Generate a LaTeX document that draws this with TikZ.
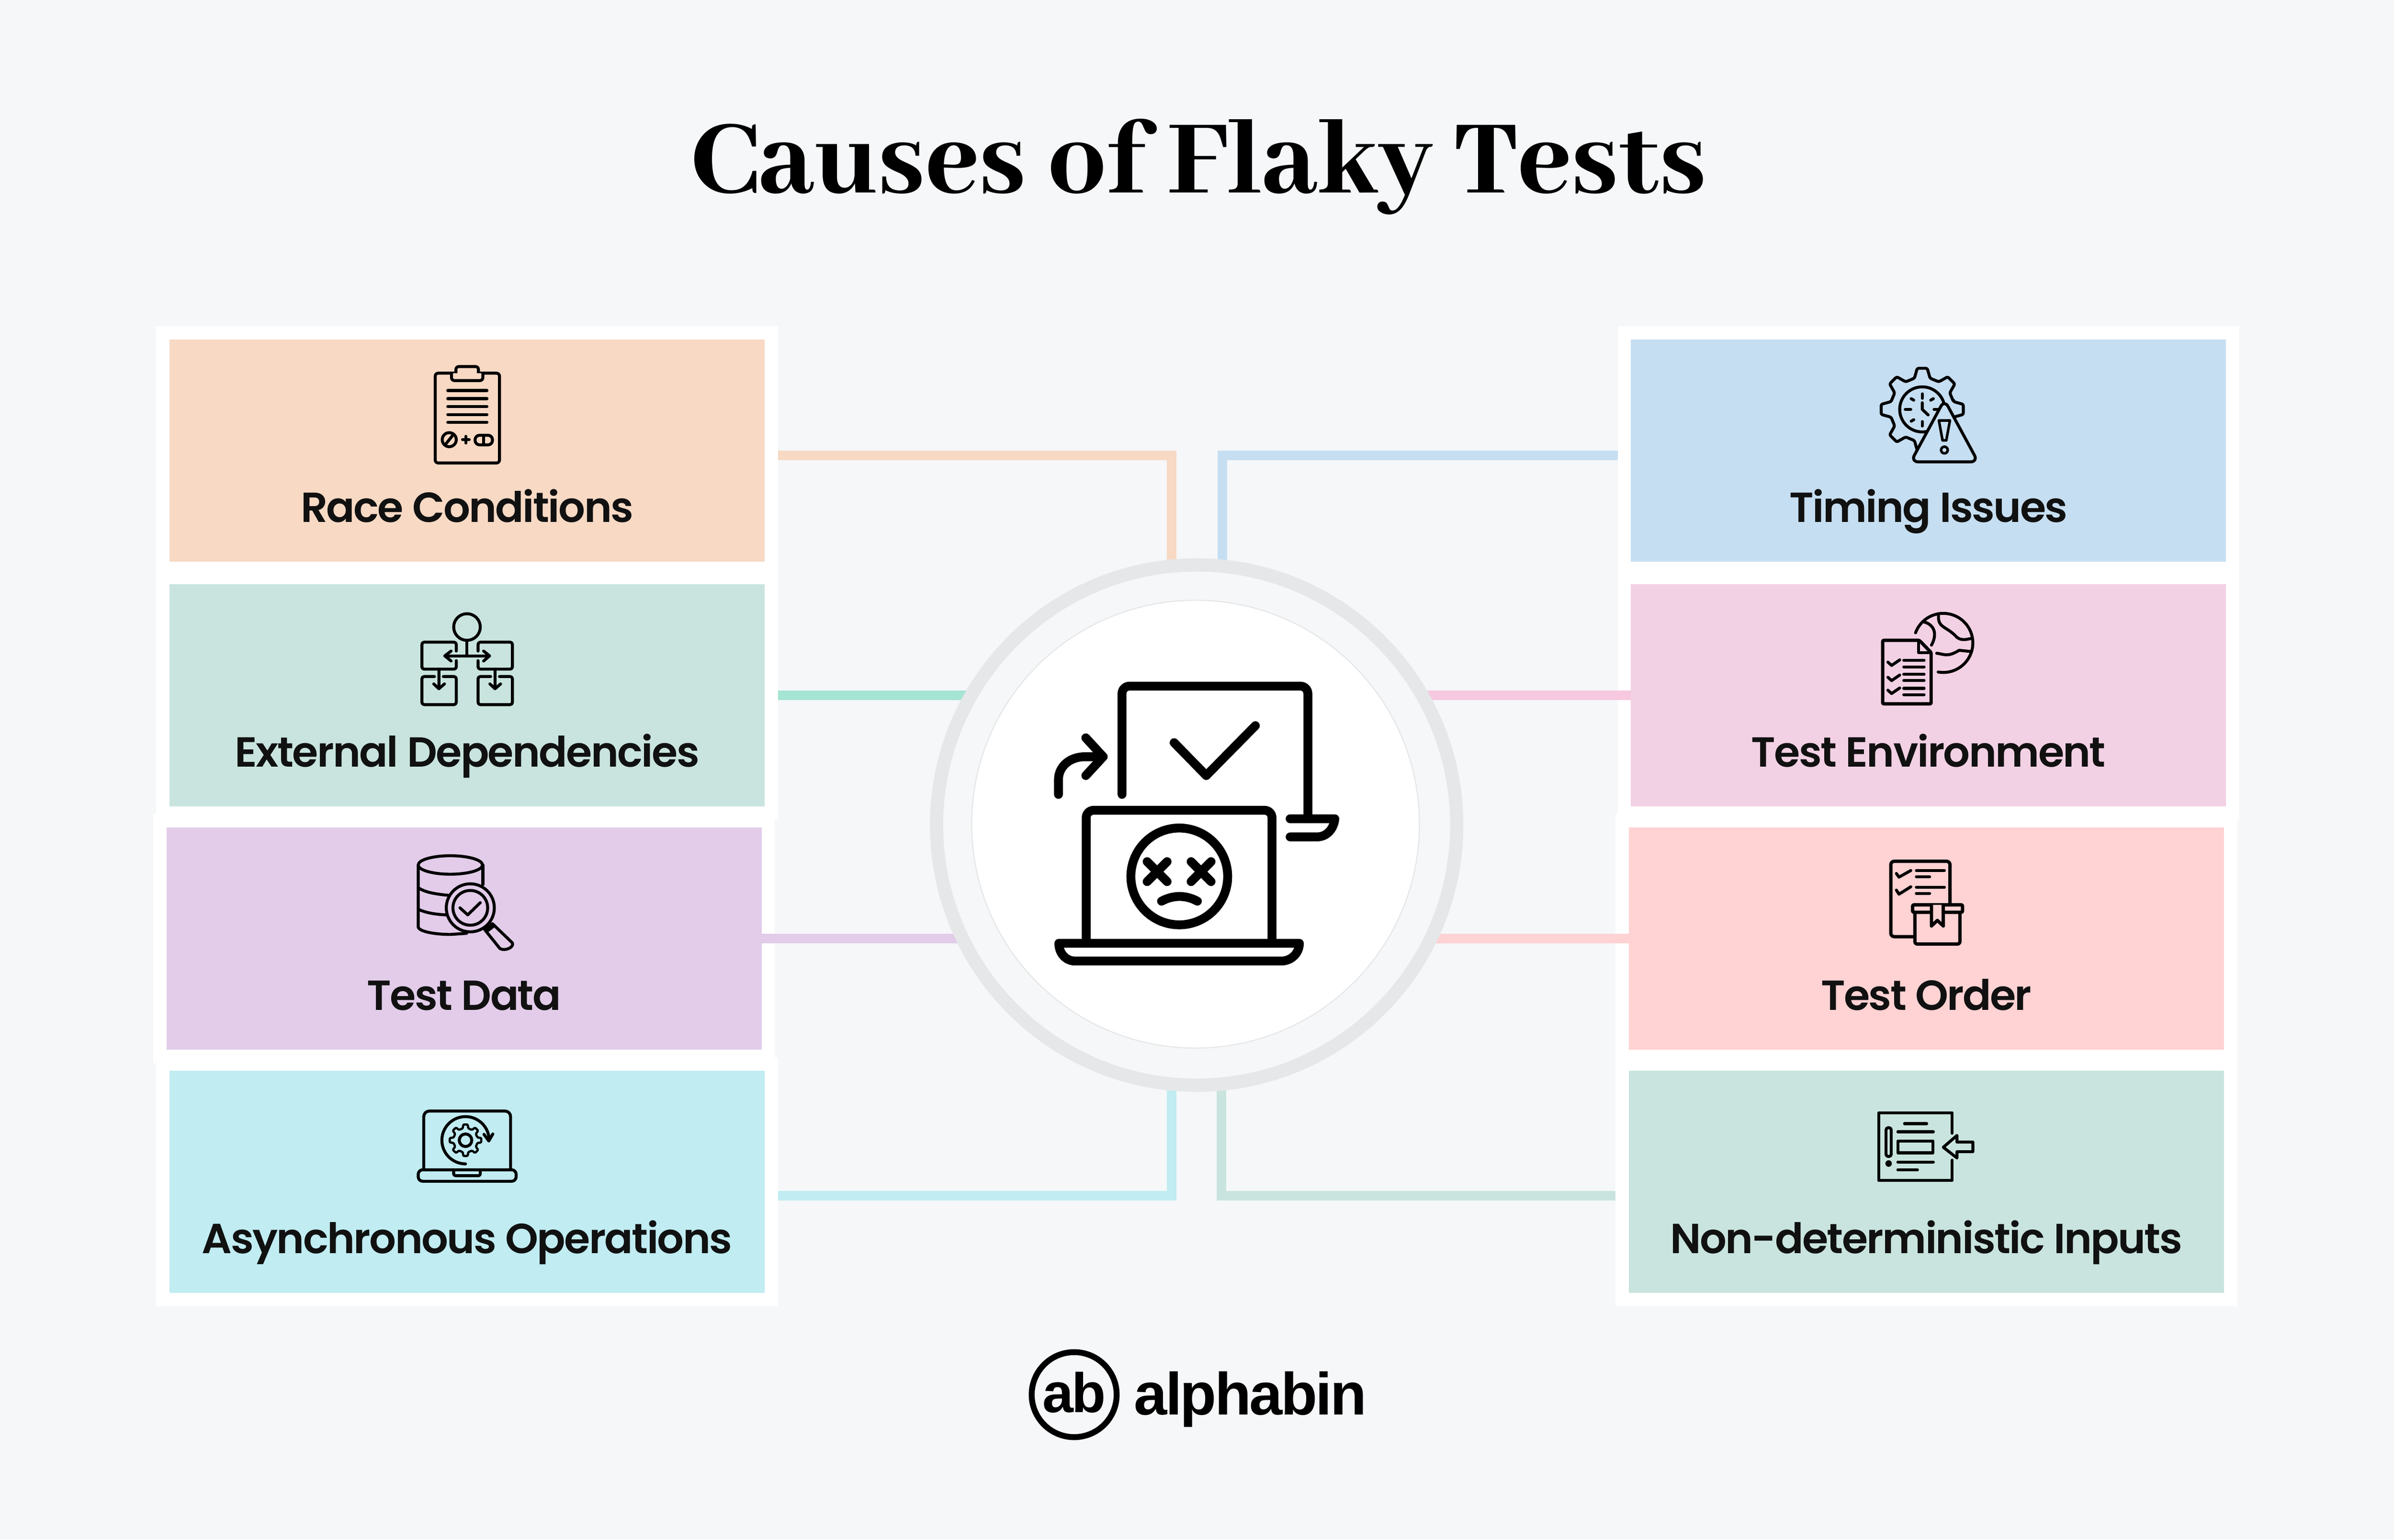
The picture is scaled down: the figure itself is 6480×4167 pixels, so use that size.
\documentclass[tikz,border=0pt]{standalone}
\usepackage{fontspec}
\usepackage{tikz}
\newfontfamily\titlefont{Abhaya Libre ExtraBold}[LetterSpace=0]
\newfontfamily\capfont{Poppins SemiBold}[LetterSpace=-3]
\newfontfamily\logofont{Liberation Sans}[LetterSpace=-3]
\definecolor{pagebg}{HTML}{F5F7F9}
\definecolor{peach}{HTML}{F7D9C4}
\definecolor{mint}{HTML}{C9E4DE}
\definecolor{lilac}{HTML}{E2CCE9}
\definecolor{aqua}{HTML}{C0ECF2}
\definecolor{sky}{HTML}{C6DEF1}
\definecolor{blush}{HTML}{F3D1E4}
\definecolor{rose}{HTML}{FFD2D3}
\definecolor{minkline}{HTML}{A6E4D4}
\definecolor{pinkline}{HTML}{F7C9E0}
\definecolor{ringgray}{HTML}{E6E7E8}
\definecolor{inkblack}{HTML}{111111}
\def\px{0.005cm}
\newcommand{\cogpath}[5]{(#1-#4:#2) \foreach \a in {0,45,...,315} { -- (\a-#4:#2) -- (\a-#5:#3) -- (\a+#5:#3) -- (\a+#4:#2)} -- cycle}
\tikzset{
card/.style={minimum width=1647*\px, minimum height=638*\px, draw=white, line width=36*\px, inner sep=0pt},
cardtext/.style={anchor=base, inner sep=0pt, text=inkblack, font=\capfont\fontsize{16.2}{20}\selectfont},
link/.style={line width=26*\px},
bigicon/.style={line width=24*\px, line cap=round, line join=round, rounded corners=20*\px},
ic/.style={line width=8*\px, line cap=round, line join=round},
}
\begin{document}
\begin{tikzpicture}[x=0.005cm, y=-0.005cm]
\useasboundingbox (0,0) rectangle (6480,4167);
\fill[pagebg] (0,0) rectangle (6480,4167);

% title
\node[anchor=base, inner sep=0pt, font=\titlefont\fontsize{44.5}{50}\selectfont] (title) at (3245,522) {Causes of Flaky Tests};

% cards
\foreach \nm/\cx/\cy/\col/\txt in {
race/1264.5/1219.5/peach/Race Conditions,
extern/1264.5/1881.5/mint/External Dependencies,
data/1256/2540/lilac/Test Data,
async/1264.5/3198.5/aqua/Asynchronous Operations,
timing/5220/1219.5/sky/Timing Issues,
envir/5220/1881.5/blush/Test Environment,
order/5214/2540/rose/Test Order,
inputs/5214/3198.5/mint/Non-deterministic Inputs}
{
\node[card, fill=\col] (\nm) at (\cx,\cy) {};
\node[cardtext] (\nm txt) at (\cx,\cy+193.5) {\txt};
}

% connectors, the hub goes over their ends
\coordinate (hubc) at (3239,2233);
\coordinate (tl) at (3171,1700);
\coordinate (tr) at (3309,1700);
\coordinate (bl) at (3171,2800);
\coordinate (br) at (3306,2800);
\draw[link, peach] ([yshift=-12.5*\px]race.east) -| (tl);
\draw[link, sky] ([yshift=-12.5*\px]timing.west) -| (tr);
\draw[link, aqua] ([yshift=-37.5*\px]async.east) -| (bl);
\draw[link, mint] ([yshift=-37.5*\px]inputs.west) -| (br);
\draw[link, minkline] (extern.east) -- (extern.east -| hubc);
\draw[link, pinkline] ([xshift=36*\px]envir.west) -- (envir.west -| hubc);
\draw[link, lilac] ([xshift=-36*\px]data.east) -- (data.east -| hubc);
\draw[link, rose] ([xshift=36*\px]order.west) -- (order.west -| hubc);

% hub
\node[circle, fill=pagebg, draw=ringgray, line width=36*\px, minimum size=1408*\px, inner sep=0pt] (hub) at (hubc) {};
\node[circle, fill=white, draw=ringgray, line width=3*\px, minimum size=1212*\px, inner sep=0pt] (hubin) at (3236,2230.5) {};

% big icon
\draw[bigicon] (3037,2150) -- (3037,1857) -- (3540,1857) -- (3540,2216);
\draw[bigicon, rounded corners=0pt] (3492,2216) -- (3613,2216) .. controls (3610,2245) and (3590,2265) .. (3565,2265) -- (3492,2265);
\draw[bigicon, rounded corners=0pt] (2865,2150) -- (2865,2110) .. controls (2865,2075) and (2895,2048) .. (2937,2048) -- (2986,2048);
\draw[bigicon, rounded corners=0pt] (2939,1997) -- (2986,2048) -- (2939,2099);
\draw[bigicon, rounded corners=0pt] (3178,2010) -- (3265,2099) -- (3398,1964);
\draw[bigicon] (2940,2553) -- (2940,2193) -- (3443,2193) -- (3443,2553);
\draw[bigicon, rounded corners=0pt] (2866,2553) -- (3517,2553) .. controls (3517,2580) and (3495,2601) .. (3468,2601) -- (2910,2601) .. controls (2885,2601) and (2866,2580) .. (2866,2553) -- cycle;
\draw[bigicon] (3192,2372) circle (131);
\draw[bigicon, rounded corners=0pt] (3105,2332) -- (3159,2386) (3159,2332) -- (3105,2386);
\draw[bigicon, rounded corners=0pt] (3224,2332) -- (3278,2386) (3278,2332) -- (3224,2386);
\draw[bigicon, rounded corners=0pt] (3144,2439) .. controls (3175,2422) and (3210,2422) .. (3241,2439);

% race conditions icon
\draw[ic, rounded corners=8*\px] (1178,1010) rectangle (1352,1253);
\draw[ic, fill=peach, rounded corners=8*\px] (1234,1012) -- (1234,992) -- (1295,992) -- (1295,1012);
\draw[ic, fill=peach, rounded corners=8*\px] (1222,1010) -- (1222,1030) -- (1307,1030) -- (1307,1010);
\foreach \ly in {1057,1079,1100,1122,1143} \draw[ic] (1212,\ly) -- (1318,\ly);
\draw[ic] (1216,1190) circle (19);
\draw[ic] (1208,1200) -- (1224,1180);
\draw[ic] (1252,1190) -- (1270,1190) (1261,1181) -- (1261,1199);
\draw[ic, rounded corners=12*\px] (1286,1178) rectangle (1333,1204);
\draw[ic] (1309,1178) -- (1309,1204);

% external dependencies icon
\draw[ic] (1264,1697) circle (36);
\draw[ic] (1264,1733) -- (1264,1775) (1204,1775) -- (1325,1775);
\draw[ic] (1221,1762) -- (1204,1775) -- (1221,1789) (1309,1762) -- (1325,1775) -- (1309,1789);
\draw[ic, rounded corners=6*\px] (1235,1762) -- (1235,1738) -- (1142,1738) -- (1142,1811) -- (1235,1811) -- (1235,1788);
\draw[ic, rounded corners=6*\px] (1294,1762) -- (1294,1738) -- (1387,1738) -- (1387,1811) -- (1294,1811) -- (1294,1788);
\draw[ic, rounded corners=6*\px] (1176,1831) -- (1142,1831) -- (1142,1907) -- (1235,1907) -- (1235,1831) -- (1200,1831);
\draw[ic, rounded corners=6*\px] (1328,1831) -- (1294,1831) -- (1294,1907) -- (1387,1907) -- (1387,1831) -- (1352,1831);
\draw[ic] (1188,1811) -- (1188,1864) (1174,1851) -- (1188,1864) -- (1203,1851);
\draw[ic] (1340,1811) -- (1340,1864) (1326,1851) -- (1340,1864) -- (1355,1851);

% test data icon
\draw[ic] (1219,2341) ellipse (87 and 25);
\draw[ic] (1132,2341) -- (1132,2509) .. controls (1135,2522) and (1180,2529) .. (1220,2529) -- (1263,2526);
\draw[ic] (1307,2341) -- (1307,2394);
\draw[ic] (1133,2403) .. controls (1150,2415) and (1180,2420) .. (1213,2423);
\draw[ic] (1133,2461) .. controls (1150,2470) and (1180,2475) .. (1207,2476);
\draw[ic, fill=lilac] (1312,2516) -- (1353,2567) .. controls (1365,2575) and (1392,2565) .. (1387,2552) -- (1333,2500) -- cycle;
\draw[ic] (1317,2521) -- (1337,2506);
\draw[ic, fill=lilac] (1273,2457) circle (65);
\draw[ic] (1273,2457) circle (47);
\draw[ic] (1245,2457) -- (1266,2476) -- (1300,2443);

% async operations icon
\draw[ic, rounded corners=15*\px] (1147,3166) -- (1147,3007) -- (1382,3007) -- (1382,3166);
\draw[ic, rounded corners=12*\px] (1132,3166) -- (1397,3166) -- (1397,3197) -- (1132,3197) -- cycle;
\draw[ic, rounded corners=5*\px] (1228,3166) -- (1228,3182) -- (1300,3182) -- (1300,3166);
\draw[ic] plot[domain=5:275, samples=40, shift={(1260,3086)}] (90+\x-5:64);
\draw[ic] (1310,3070) -- (1323,3088) -- (1334,3069);
\draw[ic, line width=6*\px, rounded corners=2*\px, shift={(1260,3086)}] \cogpath{0}{33}{43}{13}{8};
\draw[ic] (1260,3086) circle (17);

% timing issues icon
\draw[ic, rounded corners=4*\px, shift={(5203,1108)}] \cogpath{0}{87}{112}{14}{7};
\draw[ic] (5203,1108) circle (61);
\draw[ic] (5203,1066) -- (5203,1078) (5203,1141) -- (5203,1153) (5157,1108) -- (5172,1108) (5235,1108) -- (5247,1108);
\draw[ic] (5173,1079) -- (5180,1083) (5233,1079) -- (5226,1083) (5173,1140) -- (5180,1136);
\draw[ic] (5203,1090) -- (5203,1108) -- (5219,1123);
\draw[ic, fill=sky, rounded corners=20*\px] (5263,1082) -- (5354,1250) -- (5172,1250) -- cycle;
\draw[ic, line width=7*\px] (5248,1138) -- (5278,1138) -- (5268,1192) -- (5258,1192) -- cycle;
\draw[ic, line width=7*\px] (5263,1218) circle (9);

% test environment icon
\draw[ic] plot[domain=-160:100, samples=50, shift={(5260,1740)}] (\x:80);
\draw[ic] (5207,1683) .. controls (5235,1690) and (5245,1715) .. (5228,1746);
\draw[ic] (5247,1667) .. controls (5245,1700) and (5270,1695) .. (5297,1725) .. controls (5310,1735) and (5325,1730) .. (5335,1728);
\draw[ic] (5242,1768) .. controls (5262,1770) and (5270,1780) .. (5303,1760) -- (5332,1763);
\draw[ic, line width=9*\px, fill=blush, rounded corners=3*\px] (5096,1733) -- (5195,1733) -- (5227,1766) -- (5227,1905) -- (5096,1905) -- cycle;
\draw[ic] (5193,1736) -- (5193,1766) -- (5227,1766);
\foreach \ry in {1795,1836,1871} \draw[ic] (5110,\ry-3) -- (5120,\ry+6) -- (5142,\ry-9);
\foreach \ly in {1787,1805,1825,1842,1863,1880} \draw[ic] (5153,\ly) -- (5208,\ly);

% test order icon
\draw[ic, line width=9*\px, rounded corners=9*\px] (5180,2535) -- (5118,2535) -- (5118,2331) -- (5278,2331) -- (5278,2446);
\draw[ic] (5133,2364) -- (5140,2374) -- (5172,2356) (5133,2409) -- (5140,2420) -- (5172,2400);
\draw[ic] (5187,2356) -- (5263,2356) (5187,2373) -- (5223,2373) (5187,2401) -- (5263,2401) (5187,2418) -- (5223,2418);
\draw[ic, line width=9*\px, fill=rose, rounded corners=6*\px] (5183,2469) -- (5183,2555) -- (5305,2555) -- (5305,2469);
\draw[ic, line width=9*\px, fill=rose, rounded corners=3*\px] (5177,2449) rectangle (5312,2469);
\draw[ic, line width=9*\px, fill=rose] (5228,2449) -- (5228,2506) -- (5244,2491) -- (5260,2506) -- (5260,2449);

% non-deterministic inputs icon
\draw[ic] (5284,3067) -- (5284,3012) -- (5085,3012) -- (5085,3195) -- (5284,3195) -- (5284,3140);
\draw[ic, rounded corners=6*\px] (5105,3052) rectangle (5119,3130);
\draw[ic] (5112,3149) circle (5);
\draw[ic] (5155,3041) -- (5215,3041) (5137,3063) -- (5233,3063) (5137,3145) -- (5233,3145) (5137,3166) -- (5190,3166);
\draw[ic] (5137,3088) rectangle (5232,3120);
\draw[ic] (5260,3105) -- (5297,3073) -- (5297,3091) -- (5340,3091) -- (5340,3117) -- (5297,3117) -- (5297,3134) -- cycle;

% logo
\node[circle, draw=black, line width=16*\px, minimum size=230*\px, inner sep=0pt] (logoring) at (2907.5,3774.5) {};
\node[anchor=base, inner sep=0pt, font=\logofont\bfseries\fontsize{21.5}{24}\selectfont] (logoab) at (logoring.center |- 0,3822) {ab};
\node[anchor=base west, inner sep=0pt, font=\logofont\bfseries\fontsize{23}{26}\selectfont] (logoname) at (3068,3829) {alphabin};
\end{tikzpicture}
\end{document}
